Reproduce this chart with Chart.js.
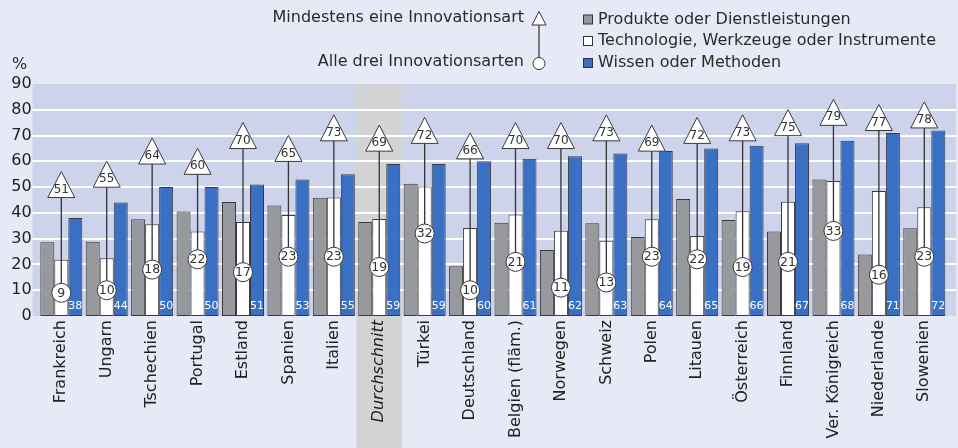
<!DOCTYPE html>
<html>
<head>
<meta charset="utf-8">
<script src="https://cdn.jsdelivr.net/npm/chart.js@4/dist/chart.umd.min.js"></script>
<style>
html,body{margin:0;padding:0;background:#e7e9f6;}
#wrap{width:958px;height:448px;position:relative;}
</style>
</head>
<body>
<div id="wrap"><canvas id="c" width="958" height="448"></canvas></div>
<script>
const categories = ["Frankreich","Ungarn","Tschechien","Portugal","Estland","Spanien","Italien","Durchschnitt","Türkei","Deutschland","Belgien (fläm.)","Norwegen","Schweiz","Polen","Litauen","Österreich","Finnland","Ver. Königreich","Niederlande","Slowenien"];
const produkte    = [28.6,28.8,37.5,40.5,44.2,42.9,45.9,36.5,51.3,19.3,36.2,25.6,36.0,30.6,45.4,37.2,32.8,53.0,23.9,34.0];
const technologie = [21.8,22.4,35.6,32.8,36.5,39.2,46.0,37.6,50.2,34.1,39.4,33.1,29.2,37.5,31.0,40.6,44.3,52.4,48.5,42.2];
const wissen      = [38,44,50,50,51,53,55,59,59,60,61,62,63,64,65,66,67,68,71,72];
const mindestens  = [51,55,64,60,70,65,73,69,72,66,70,70,73,69,72,73,75,79,77,78];
const alleDrei    = [9,10,18,22,17,23,23,19,32,10,21,11,13,23,22,19,21,33,16,23];
const yTicks      = [0,10,20,30,40,50,60,70,80,90];
const averageIndex = 7;

const FONT = "'DejaVu Sans', sans-serif";
const PAGE_BG = '#e7e9f6';
const BAND_BG = '#ced3ec';
const AVG_BG = '#d3d3d3';
const GRAY = '#98999d';
const BLUE = '#3a70c4';
const EDGE = '#3a3a3a';

const decor = {
  id: 'decor',
  beforeDraw(chart) {
    const {ctx, chartArea: a, scales: {x, y}} = chart;
    ctx.save();
    ctx.fillStyle = PAGE_BG;
    ctx.fillRect(0, 0, chart.width, chart.height);
    const L = a.left - 6, R = a.right + 9;
    const top = y.getPixelForValue(90), bot = y.getPixelForValue(0);
    ctx.fillStyle = BAND_BG;
    ctx.fillRect(L, top, R - L, bot - top);
    const cw = (a.right - a.left) / categories.length;
    const cx = x.getPixelForValue(averageIndex);
    ctx.fillStyle = AVG_BG;
    ctx.fillRect(cx - cw / 2, top, cw, chart.height - top);
    ctx.strokeStyle = '#ffffff';
    ctx.lineWidth = 2;
    yTicks.forEach(v => {
      if (v === 0 || v === 90) return;
      const py = Math.round(y.getPixelForValue(v));
      ctx.beginPath(); ctx.moveTo(L, py); ctx.lineTo(R, py); ctx.stroke();
    });
    ctx.restore();
  },
  afterDatasetsDraw(chart) {
    const ctx = chart.ctx;
    const tri = chart.getDatasetMeta(3).data;
    const cir = chart.getDatasetMeta(4).data;
    const blue = chart.getDatasetMeta(2).data;
    ctx.save();
    // blue value labels
    ctx.fillStyle = '#ffffff';
    ctx.font = "11px " + FONT;
    ctx.textAlign = 'center';
    ctx.textBaseline = 'middle';
    blue.forEach((b, i) => { ctx.fillText(String(wissen[i]), b.x, b.base - 10); });
    for (let i = 0; i < categories.length; i++) {
      const px = tri[i].x, yt = tri[i].y, yc = cir[i].y;
      ctx.strokeStyle = '#333333';
      ctx.lineWidth = 1.3;
      ctx.beginPath(); ctx.moveTo(px, yt); ctx.lineTo(px, yc); ctx.stroke();
      // triangle
      ctx.beginPath();
      ctx.moveTo(px, yt - 13);
      ctx.lineTo(px + 13.5, yt + 13);
      ctx.lineTo(px - 13.5, yt + 13);
      ctx.closePath();
      ctx.fillStyle = '#ffffff'; ctx.fill();
      ctx.lineWidth = 1; ctx.strokeStyle = '#3a3a3a'; ctx.stroke();
      ctx.fillStyle = '#333333';
      ctx.font = "12px " + FONT;
      ctx.fillText(String(mindestens[i]), px, yt + 5);
      // circle
      ctx.beginPath(); ctx.arc(px, yc, 9.5, 0, Math.PI * 2);
      ctx.fillStyle = '#ffffff'; ctx.fill();
      ctx.strokeStyle = '#3a3a3a'; ctx.stroke();
      ctx.fillStyle = '#333333';
      ctx.font = "12.5px " + FONT;
      ctx.fillText(String(alleDrei[i]), px, yc + 0.5);
    }
    ctx.restore();
  },
  afterDraw(chart) {
    const ctx = chart.ctx;
    ctx.save();
    ctx.font = "16px " + FONT;
    ctx.fillStyle = '#2a2a2a';
    ctx.textBaseline = 'middle';
    ctx.textAlign = 'left';
    ctx.fillText('%', 12, 65);
    ctx.textAlign = 'right';
    ctx.fillText('Mindestens eine Innovationsart', 524, 18);
    ctx.fillText('Alle drei Innovationsarten', 524, 62);
    // legend marker line
    ctx.strokeStyle = '#555555'; ctx.lineWidth = 1.5;
    ctx.beginPath(); ctx.moveTo(539, 20); ctx.lineTo(539, 58); ctx.stroke();
    ctx.beginPath(); ctx.moveTo(539, 11.5); ctx.lineTo(546, 25); ctx.lineTo(532, 25); ctx.closePath();
    ctx.fillStyle = '#ffffff'; ctx.fill(); ctx.lineWidth = 1; ctx.strokeStyle = '#333333'; ctx.stroke();
    ctx.beginPath(); ctx.arc(539, 63.5, 6, 0, Math.PI * 2); ctx.fillStyle = '#ffffff'; ctx.fill(); ctx.stroke();
    const items = [['Produkte oder Dienstleistungen', GRAY, 19.5], ['Technologie, Werkzeuge oder Instrumente', '#ffffff', 41], ['Wissen oder Methoden', BLUE, 63]];
    ctx.textAlign = 'left';
    items.forEach(([t, c, yy]) => {
      ctx.fillStyle = c; ctx.fillRect(583, yy - 4.5, 9, 9);
      ctx.strokeStyle = '#333333'; ctx.lineWidth = 1; ctx.strokeRect(583.5, yy - 4.5, 9, 9);
      ctx.fillStyle = '#2a2a2a'; ctx.fillText(t, 598, yy);
    });
    ctx.restore();
  }
};

const barCommon = {borderColor: EDGE, borderWidth: 1, borderSkipped: false, categoryPercentage: 0.925, barPercentage: 1.0};

new Chart(document.getElementById('c'), {
  type: 'bar',
  data: {
    labels: categories,
    datasets: [
      Object.assign({label: 'Produkte oder Dienstleistungen', data: produkte, backgroundColor: GRAY}, barCommon),
      Object.assign({label: 'Technologie, Werkzeuge oder Instrumente', data: technologie, backgroundColor: '#ffffff'}, barCommon),
      Object.assign({label: 'Wissen oder Methoden', data: wissen, backgroundColor: BLUE}, barCommon),
      {type: 'line', label: 'Mindestens eine Innovationsart', data: mindestens, showLine: false, pointRadius: 0, pointHoverRadius: 0},
      {type: 'line', label: 'Alle drei Innovationsarten', data: alleDrei, showLine: false, pointRadius: 0, pointHoverRadius: 0}
    ]
  },
  options: {
    responsive: false,
    animation: false,
    events: [],
    layout: {padding: {left: 0, right: 11, top: 84, bottom: 0}},
    plugins: {legend: {display: false}, tooltip: {enabled: false}},
    scales: {
      x: {
        grid: {display: false, drawTicks: false},
        border: {display: false},
        afterFit(s) { s.height = 132; },
        ticks: {
          minRotation: 90, maxRotation: 90, padding: 4, color: '#222222', autoSkip: false,
          font: (c) => ({family: FONT, size: 16, style: c.index === averageIndex ? 'italic' : 'normal'})
        }
      },
      y: {
        min: 0, max: 90,
        grid: {display: false, drawTicks: false},
        border: {display: false},
        afterFit(s) { s.width = 38.6; },
        afterBuildTicks(s) { s.ticks = yTicks.map(v => ({value: v})); },
        ticks: {padding: 7, color: '#222222', font: {family: FONT, size: 16}}
      }
    }
  },
  plugins: [decor]
});
</script>
</body>
</html>
